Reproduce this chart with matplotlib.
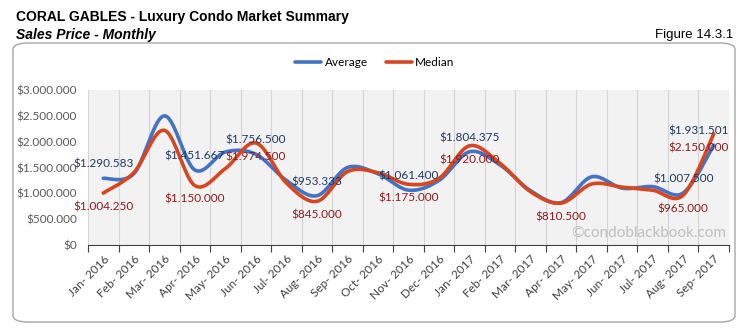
import matplotlib.pyplot as plt
from matplotlib.patches import FancyBboxPatch
from matplotlib.ticker import FuncFormatter
import numpy as np

months = ["Jan- 2016", "Feb- 2016", "Mar- 2016", "Apr- 2016", "May- 2016", "Jun- 2016",
          "Jul- 2016", "Aug- 2016", "Sep- 2016", "Oct- 2016", "Nov- 2016", "Dec- 2016",
          "Jan- 2017", "Feb- 2017", "Mar- 2017", "Apr- 2017", "May- 2017", "Jun- 2017",
          "Jul- 2017", "Aug- 2017", "Sep- 2017"]
average = [1290583, 1380000, 2500000, 1451667, 1800000, 1756500, 1250000, 953333,
           1500000, 1380000, 1061400, 1250000, 1804375, 1550000, 1050000, 820000,
           1320000, 1100000, 1130000, 1007500, 1931501]
median = [1004250, 1400000, 2220000, 1150000, 1480000, 1974500, 1200000, 845000,
          1420000, 1400000, 1175000, 1290000, 1920000, 1580000, 1030000, 810500,
          1180000, 1120000, 1060000, 965000, 2150000]
# which months carry a data label
avg_labelled = [0, 3, 5, 7, 10, 12, 19, 20]
med_labelled = [0, 3, 5, 7, 10, 12, 15, 19, 20]

BLUE = "#4472C4"
RED = "#D6461F"
LBL = "Lato"


def smooth(y, n=20):
    # excel-like smoothed line (bezier through the points)
    y = np.asarray(y, dtype=float)
    x = np.arange(len(y), dtype=float)
    px = np.concatenate([[x[0]], x, [x[-1]]])
    py = np.concatenate([[y[0]], y, [y[-1]]])
    xs, ys = [], []
    for i in range(1, len(px) - 2):
        p0, p1, p2, p3 = py[i - 1], py[i], py[i + 1], py[i + 2]
        q0, q1, q2, q3 = px[i - 1], px[i], px[i + 1], px[i + 2]
        t = np.linspace(0, 1, n, endpoint=False)
        c1y, c2y = p1 + (p2 - p0) / 6, p2 - (p3 - p1) / 6
        c1x, c2x = q1 + (q2 - q0) / 6, q2 - (q3 - q1) / 6
        b = [(1 - t) ** 3, 3 * (1 - t) ** 2 * t, 3 * (1 - t) * t ** 2, t ** 3]
        xs.append(b[0] * q1 + b[1] * c1x + b[2] * c2x + b[3] * q2)
        ys.append(b[0] * p1 + b[1] * c1y + b[2] * c2y + b[3] * p2)
    xs.append([x[-1]])
    ys.append([y[-1]])
    return np.concatenate(xs), np.concatenate(ys)


def money(v, pos=None):
    return "$" + f"{int(v):,}".replace(",", ".")


fig = plt.figure(figsize=(7.4, 3.3), dpi=100)
fig.patches.append(FancyBboxPatch((13 / 740, 8 / 330), 722 / 740, 279 / 330,
                                  boxstyle="round,pad=0,rounding_size=0.02",
                                  transform=fig.transFigure, fill=False,
                                  edgecolor="#A6A6A6", linewidth=1.0))

fig.text(16 / 740, 1 - 17 / 330, "CORAL GABLES - Luxury Condo Market Summary",
         fontsize=10, fontweight="bold", family="Liberation Sans", va="center")
fig.text(16 / 740, 1 - 35 / 330, "Sales Price - Monthly", fontsize=10,
         fontweight="bold", style="italic", family="Liberation Sans", va="center")
fig.text(733 / 740, 1 - 35 / 330, "Figure 14.3.1", fontsize=9.5,
         family="Liberation Sans", va="center", ha="right")

ax = fig.add_axes([88 / 740, 1 - 245 / 330, 641 / 740, 155 / 330])
ax.set_facecolor("#F2F2F2")
x = np.arange(len(months))

sx, sy = smooth(average)
ax.plot(sx, sy, color=BLUE, lw=2.6, label="Average", solid_capstyle="round")
sx, sy = smooth(median)
ax.plot(sx, sy, color=RED, lw=2.6, label="Median", solid_capstyle="round")

last = len(months) - 1
for i in avg_labelled:
    dx = -11 if i == last else 0
    ax.annotate(money(average[i]), (x[i], average[i]), xytext=(dx, 6),
                textcoords="offset points", ha="center", va="bottom",
                fontsize=8.5, color="#1F3864", family=LBL)
for i in med_labelled:
    dx = -11 if i == last else 0
    ax.annotate(money(median[i]), (x[i], median[i]), xytext=(dx, -6),
                textcoords="offset points", ha="center", va="top",
                fontsize=8.5, color="#8B1A1A", family=LBL)

ax.set_xlim(-0.5, len(months) - 0.5)
ax.set_ylim(0, 3000000)
ax.set_yticks(np.arange(0, 3000001, 500000))
ax.yaxis.set_major_formatter(FuncFormatter(money))
ax.set_xticks(x)
ax.set_xticklabels(months, rotation=45, ha="right", rotation_mode="anchor")
ax.set_xticks(np.arange(-0.5, len(months), 1), minor=True)
ax.tick_params(axis="x", which="major", length=0, pad=6, labelsize=8.5,
               labelcolor="#404040")
ax.tick_params(axis="x", which="minor", length=5, color="#404040", width=0.8)
ax.tick_params(axis="y", length=0, labelsize=8.5, labelcolor="#595959", pad=8)
for lbl in ax.get_xticklabels() + ax.get_yticklabels():
    lbl.set_family(LBL)
ax.grid(True, axis="x", which="minor", color="#D4D4D4", lw=0.8)
ax.set_axisbelow(True)
for s in ["left", "right", "top"]:
    ax.spines[s].set_visible(False)
ax.spines["bottom"].set_color("#404040")
ax.spines["bottom"].set_linewidth(0.8)

ax.text(0.995, 0.03, "\u00a9condoblackbook.com", transform=ax.transAxes,
        ha="right", va="bottom", fontsize=11, color="#BFBFBF", family=LBL)

fig.legend(loc="center", bbox_to_anchor=(375 / 740, 1 - 63 / 330), ncol=2,
           frameon=False, prop={"family": LBL, "size": 8.5}, handlelength=2.2,
           handletextpad=0.3, columnspacing=1.5)

fig.savefig("out.png", dpi=100)
